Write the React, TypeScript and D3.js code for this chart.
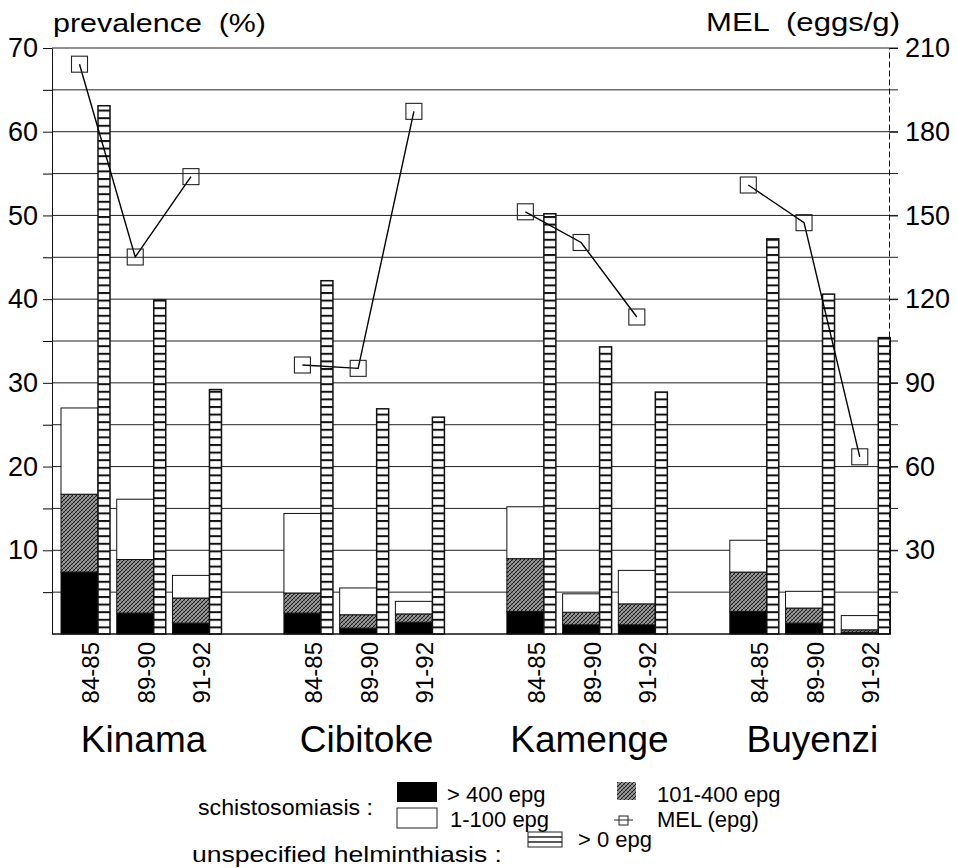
import React, { useEffect, useRef } from "react";
import * as d3 from "d3";

const sites = ["Kinama", "Cibitoke", "Kamenge", "Buyenzi"];
const periods = ["84-85", "89-90", "91-92"];

// schistosomiasis prevalence (%) by intensity class, site x period
const over400 = [7.4, 2.5, 1.3, 2.5, 0.7, 1.4, 2.7, 1.1, 1.1, 2.7, 1.3, 0.2];
const epg101to400 = [9.3, 6.4, 3.0, 2.4, 1.6, 1.0, 6.3, 1.5, 2.5, 4.7, 1.8, 0.3];
const epg1to100 = [10.3, 7.2, 2.7, 9.5, 3.2, 1.5, 6.2, 2.2, 4.0, 3.8, 2.0, 1.7];
// unspecified helminthiasis prevalence (%)
const helminth = [63.1, 39.9, 29.2, 42.2, 26.9, 25.9, 50.2, 34.3, 28.9, 47.2, 40.6, 35.4];
// mean egg load (eggs/g)
const mel = [204.2, 135.1, 163.9, 96.4, 95.2, 187.3, 151.3, 140.3, 113.6, 160.9, 147.4, 63.5];

const leftTicks = [10, 20, 30, 40, 50, 60, 70];
const rightTicks = [30, 60, 90, 120, 150, 180, 210];

const FONT = "'Liberation Sans', Arial, sans-serif";

const App = () => {
  const svg = useRef(null);

  useEffect(() => {
    const root = d3.select(svg.current);
    root.selectAll("*").remove();

    const left = 52, right = 889, top = 48, base = 634;

    const slots = sites.flatMap((s, i) => [
      ...periods.map((p) => s + "|" + p),
      ...(i < sites.length - 1 ? ["gap" + i] : []),
    ]);
    const x = d3.scaleBand().domain(slots).range([55, 891]).paddingInner(0).paddingOuter(0);
    const yL = d3.scaleLinear().domain([0, 70]).range([base, top]);
    const yR = d3.scaleLinear().domain([0, 210]).range([base, top]);

    const rows = sites.flatMap((site, si) =>
      periods.map((period, pi) => {
        const i = si * periods.length + pi;
        return {
          site, period, key: site + "|" + period,
          black: over400[i], gray: epg101to400[i], white: epg1to100[i],
          helm: helminth[i], mel: mel[i],
        };
      })
    );

    // patterns
    const defs = root.append("defs");
    const stip = defs.append("pattern").attr("id", "stip")
      .attr("patternUnits", "userSpaceOnUse").attr("width", 4).attr("height", 4);
    stip.append("rect").attr("width", 4).attr("height", 4).attr("fill", "#9a9a9a");
    stip.append("path").attr("d", "M0,4L4,0M-1,1L1,-1M3,5L5,3").attr("stroke", "#1a1a1a").attr("stroke-width", 1);
    stip.append("path").attr("d", "M0,0L4,4").attr("stroke", "#444").attr("stroke-width", 0.6);

    const ladder = defs.append("pattern").attr("id", "ladder")
      .attr("patternUnits", "userSpaceOnUse").attr("width", 20).attr("height", 7.6)
      .attr("y", base);
    ladder.append("rect").attr("width", 20).attr("height", 7.6).attr("fill", "#fff");
    ladder.append("rect").attr("y", 0).attr("width", 20).attr("height", 2).attr("fill", "#111");

    // gridlines every 5 %
    root.append("g").selectAll("line")
      .data(d3.range(5, 71, 5))
      .join("line")
      .attr("x1", left).attr("x2", 898)
      .attr("y1", (d) => yL(d)).attr("y2", (d) => yL(d))
      .attr("stroke", "#222").attr("stroke-width", 1);

    // schistosomiasis stacked bars
    const stack = d3.stack().keys(["black", "gray", "white"]);
    const series = stack(rows);
    const fills = { black: "#000", gray: "url(#stip)", white: "#fff" };
    root.append("g").selectAll("g")
      .data(series)
      .join("g")
      .attr("fill", (s) => fills[s.key])
      .selectAll("rect")
      .data((s) => s)
      .join("rect")
      .attr("x", (d) => x(d.data.key) + 6)
      .attr("width", 37)
      .attr("y", (d) => yL(d[1]))
      .attr("height", (d) => yL(d[0]) - yL(d[1]))
      .attr("stroke", "#111").attr("stroke-width", 1);

    // unspecified helminthiasis bars
    root.append("g").selectAll("rect")
      .data(rows)
      .join("rect")
      .attr("x", (d) => x(d.key) + 43)
      .attr("width", 12)
      .attr("y", (d) => yL(d.helm))
      .attr("height", (d) => base - yL(d.helm))
      .attr("fill", "url(#ladder)")
      .attr("stroke", "#111").attr("stroke-width", 1.5);

    // MEL lines, one per site
    const line = d3.line().x((d) => x(d.key) + 24.5).y((d) => yR(d.mel));
    root.append("g").selectAll("path")
      .data(sites.map((s) => rows.filter((r) => r.site === s)))
      .join("path")
      .attr("d", line)
      .attr("fill", "none").attr("stroke", "#000").attr("stroke-width", 1.4);
    root.append("g").selectAll("rect")
      .data(rows)
      .join("rect")
      .attr("x", (d) => x(d.key) + 24.5 - 8)
      .attr("y", (d) => yR(d.mel) - 8)
      .attr("width", 16).attr("height", 16)
      .attr("fill", "none").attr("stroke", "#222").attr("stroke-width", 1.1);

    // axes
    const axL = root.append("g").attr("transform", `translate(${left},0)`)
      .call(d3.axisLeft(yL).tickValues(leftTicks).tickSize(9).tickSizeOuter(0).tickPadding(5));
    root.append("g").attr("transform", `translate(${left},0)`)
      .call(d3.axisLeft(yL).tickValues(d3.range(5, 70, 10)).tickSize(9).tickSizeOuter(0).tickFormat(() => ""))
      .select(".domain").remove();
    const axR = root.append("g").attr("transform", `translate(${right},0)`)
      .call(d3.axisRight(yR).tickValues(rightTicks).tickSize(9).tickSizeOuter(0).tickPadding(7));
    axR.select(".domain").attr("stroke-dasharray", "6,3");
    [axL, axR].forEach((a) => {
      a.selectAll("text").attr("font-size", 27).attr("font-family", FONT).attr("fill", "#000");
      a.selectAll("line, path").attr("stroke", "#111");
    });

    // baseline
    root.append("line").attr("x1", left).attr("x2", right)
      .attr("y1", base).attr("y2", base).attr("stroke", "#111").attr("stroke-width", 1.5);

    // period labels
    root.append("g").selectAll("text")
      .data(rows)
      .join("text")
      .attr("transform", (d) => `translate(${x(d.key) + 44},642) rotate(-90)`)
      .attr("text-anchor", "end")
      .attr("font-size", 24).attr("font-family", FONT)
      .text((d) => d.period);

    // site labels
    root.append("g").selectAll("text")
      .data(sites)
      .join("text")
      .attr("x", (s) => (x(s + "|" + periods[0]) + x(s + "|" + periods[2]) + x.bandwidth()) / 2 + 5)
      .attr("y", 752)
      .attr("text-anchor", "middle")
      .attr("font-size", 37).attr("font-family", FONT)
      .text((s) => s);

    // axis titles
    root.append("text").attr("x", 53).attr("y", 32)
      .attr("font-size", 26).attr("font-family", FONT)
      .attr("textLength", 213).attr("lengthAdjust", "spacingAndGlyphs")
      .style("white-space", "pre").text("prevalence  (%)");
    root.append("text").attr("x", 706).attr("y", 31)
      .attr("font-size", 26).attr("font-family", FONT)
      .attr("textLength", 194).attr("lengthAdjust", "spacingAndGlyphs")
      .style("white-space", "pre").text("MEL  (eggs/g)");

    // legend
    const lg = root.append("g").attr("font-family", FONT).attr("font-size", 22);
    lg.append("text").attr("x", 198).attr("y", 815)
      .attr("textLength", 175).attr("lengthAdjust", "spacingAndGlyphs")
      .text("schistosomiasis :");
    lg.append("rect").attr("x", 397).attr("y", 782).attr("width", 40).attr("height", 20).attr("fill", "#000");
    lg.append("text").attr("x", 447).attr("y", 802).text("> 400 epg");
    lg.append("rect").attr("x", 397).attr("y", 808).attr("width", 40).attr("height", 20)
      .attr("fill", "#fff").attr("stroke", "#222");
    lg.append("text").attr("x", 450).attr("y", 827).text("1-100 epg");
    lg.append("rect").attr("x", 617).attr("y", 782).attr("width", 19).attr("height", 18)
      .attr("fill", "url(#stip)");
    lg.append("text").attr("x", 657).attr("y", 802).text("101-400 epg");
    lg.append("line").attr("x1", 614).attr("x2", 633).attr("y1", 820).attr("y2", 820).attr("stroke", "#222");
    lg.append("rect").attr("x", 619).attr("y", 816).attr("width", 9).attr("height", 9)
      .attr("fill", "none").attr("stroke", "#222");
    lg.append("text").attr("x", 657).attr("y", 827).text("MEL (epg)");
    lg.append("text").attr("x", 192).attr("y", 862)
      .attr("textLength", 310).attr("lengthAdjust", "spacingAndGlyphs")
      .text("unspecified helminthiasis :");
    lg.append("rect").attr("x", 528).attr("y", 832).attr("width", 34).attr("height", 15)
      .attr("fill", "#fff").attr("stroke", "#222");
    [837, 842].forEach((yy) =>
      lg.append("line").attr("x1", 528).attr("x2", 562).attr("y1", yy).attr("y2", yy).attr("stroke", "#222").attr("stroke-width", 1.4)
    );
    lg.append("text").attr("x", 578).attr("y", 847).text("> 0 epg");
  }, []);

  return (
    <svg
      ref={svg}
      width={957}
      height={868}
      style={{ position: "absolute", left: 0, top: 0, background: "#fff" }}
    />
  );
};

export default App;
